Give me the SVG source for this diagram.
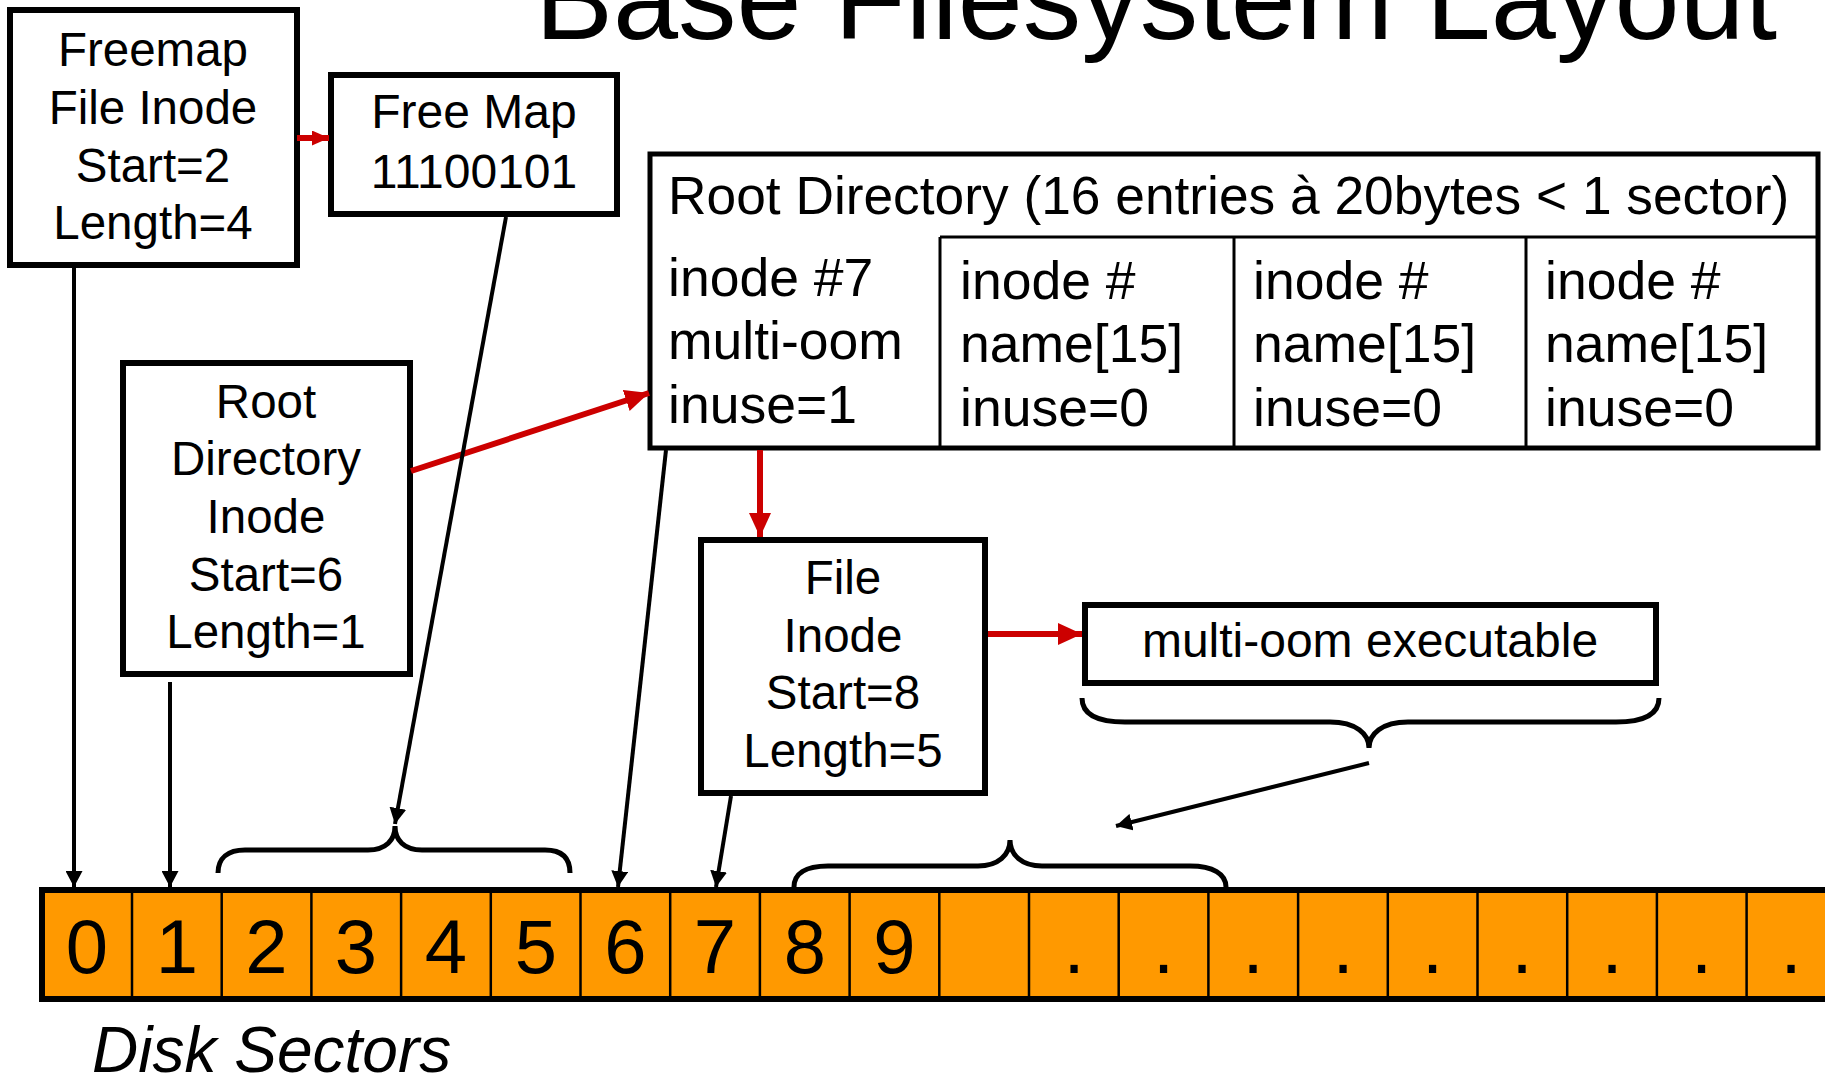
<svg xmlns="http://www.w3.org/2000/svg" width="1825" height="1078" viewBox="0 0 1825 1078">
<style>
.box{fill:#fff;stroke:#000;stroke-width:6}
.t{font-family:"Liberation Sans",Arial,sans-serif;fill:#000}
.c{text-anchor:middle}
.bl{stroke:#000;stroke-width:4;fill:none}
.rd{stroke:#CC0000;stroke-width:6;fill:none}
.brace{stroke:#000;stroke-width:5;fill:none;stroke-linecap:butt}
.div{stroke:#000;stroke-width:2.5}
.cell{stroke:#000;stroke-width:3}
</style>
<defs>
<marker id="ab" markerUnits="userSpaceOnUse" markerWidth="16" markerHeight="17" refX="16" refY="8.5" orient="auto"><path d="M0,0 L16,8.5 L0,17 z" fill="#000"/></marker>
<marker id="ar" markerUnits="userSpaceOnUse" markerWidth="24" markerHeight="22" refX="24" refY="11" orient="auto"><path d="M0,0 L24,11 L0,22 z" fill="#CC0000"/></marker>
<marker id="ars" markerUnits="userSpaceOnUse" markerWidth="17" markerHeight="15" refX="17" refY="7.5" orient="auto"><path d="M0,0 L17,7.5 L0,15 z" fill="#CC0000"/></marker>
</defs>
<rect width="1825" height="1078" fill="#fff"/>

<text id="title" class="t" x="535" y="39" font-size="117">Base Filesystem Layout</text>

<g id="freemap-inode">
<rect class="box" x="10" y="10" width="287" height="255"/>
<text class="t c" font-size="47.5"><tspan x="153" y="66">Freemap</tspan><tspan x="153" y="124">File Inode</tspan><tspan x="153" y="182">Start=2</tspan><tspan x="153" y="239">Length=4</tspan></text>
</g>

<g id="free-map">
<rect class="box" x="331" y="75" width="286" height="139"/>
<text class="t c" font-size="48"><tspan x="474" y="128">Free Map</tspan><tspan x="474" y="188">11100101</tspan></text>
</g>

<g id="root-dir-inode">
<rect class="box" x="123" y="363" width="287" height="311"/>
<text class="t c" font-size="47.5"><tspan x="266" y="418">Root</tspan><tspan x="266" y="475">Directory</tspan><tspan x="266" y="533">Inode</tspan><tspan x="266" y="591">Start=6</tspan><tspan x="266" y="648">Length=1</tspan></text>
</g>

<g id="root-directory">
<rect x="650" y="154" width="1168" height="294" fill="#fff" stroke="#000" stroke-width="5"/>
<line class="cell" x1="940" y1="237" x2="1818" y2="237"/>
<line class="cell" x1="940" y1="237" x2="940" y2="448"/>
<line class="cell" x1="1234" y1="237" x2="1234" y2="448"/>
<line class="cell" x1="1526" y1="237" x2="1526" y2="448"/>
<text class="t" x="668" y="214" font-size="53.3">Root Directory (16 entries à 20bytes &lt; 1 sector)</text>
<text class="t" font-size="53.5"><tspan x="668" y="296">inode #7</tspan><tspan x="668" y="359">multi-oom</tspan><tspan x="668" y="423">inuse=1</tspan></text>
<text class="t" font-size="53.5"><tspan x="960" y="299">inode #</tspan><tspan x="960" y="362">name[15]</tspan><tspan x="960" y="426">inuse=0</tspan></text>
<text class="t" font-size="53.5"><tspan x="1253" y="299">inode #</tspan><tspan x="1253" y="362">name[15]</tspan><tspan x="1253" y="426">inuse=0</tspan></text>
<text class="t" font-size="53.5"><tspan x="1545" y="299">inode #</tspan><tspan x="1545" y="362">name[15]</tspan><tspan x="1545" y="426">inuse=0</tspan></text>
</g>

<g id="file-inode">
<rect class="box" x="701" y="540" width="284" height="253"/>
<text class="t c" font-size="47.5"><tspan x="843" y="594">File</tspan><tspan x="843" y="652">Inode</tspan><tspan x="843" y="709">Start=8</tspan><tspan x="843" y="767">Length=5</tspan></text>
</g>

<g id="executable">
<rect class="box" x="1085" y="605" width="571" height="78"/>
<text class="t c" x="1370" y="657" font-size="48">multi-oom executable</text>
</g>

<g id="disk-sectors">
<rect x="42" y="890" width="1800" height="109" fill="#FF9900" stroke="#000" stroke-width="6"/>
<g class="div">
<line x1="132" y1="890" x2="132" y2="999"/><line x1="221.7" y1="890" x2="221.7" y2="999"/><line x1="311.4" y1="890" x2="311.4" y2="999"/><line x1="401.1" y1="890" x2="401.1" y2="999"/><line x1="490.8" y1="890" x2="490.8" y2="999"/><line x1="580.5" y1="890" x2="580.5" y2="999"/><line x1="670.2" y1="890" x2="670.2" y2="999"/><line x1="759.9" y1="890" x2="759.9" y2="999"/><line x1="849.6" y1="890" x2="849.6" y2="999"/><line x1="939.3" y1="890" x2="939.3" y2="999"/><line x1="1029" y1="890" x2="1029" y2="999"/><line x1="1118.7" y1="890" x2="1118.7" y2="999"/><line x1="1208.4" y1="890" x2="1208.4" y2="999"/><line x1="1298.1" y1="890" x2="1298.1" y2="999"/><line x1="1387.8" y1="890" x2="1387.8" y2="999"/><line x1="1477.5" y1="890" x2="1477.5" y2="999"/><line x1="1567.2" y1="890" x2="1567.2" y2="999"/><line x1="1656.9" y1="890" x2="1656.9" y2="999"/><line x1="1746.6" y1="890" x2="1746.6" y2="999"/>
</g>
<g class="t c" font-size="76">
<text x="87" y="973">0</text><text x="177" y="973">1</text><text x="266.5" y="973">2</text><text x="356" y="973">3</text><text x="446" y="973">4</text><text x="536" y="973">5</text><text x="625.5" y="973">6</text><text x="715" y="973">7</text><text x="805" y="973">8</text><text x="894.5" y="973">9</text>
<text x="1074" y="973">.</text><text x="1163.5" y="973">.</text><text x="1253" y="973">.</text><text x="1343" y="973">.</text><text x="1432.5" y="973">.</text><text x="1522" y="973">.</text><text x="1612" y="973">.</text><text x="1701.5" y="973">.</text><text x="1791" y="973">.</text>
</g>
<text class="t" x="92" y="1072" font-size="64" font-style="italic">Disk Sectors</text>
</g>

<g id="connectors">
<line class="rd" x1="297" y1="138" x2="329" y2="138" marker-end="url(#ars)"/>
<line class="rd" x1="411" y1="471" x2="649" y2="393" marker-end="url(#ar)"/>
<line class="rd" x1="760" y1="450" x2="760" y2="537" marker-end="url(#ar)" stroke-width="5"/>
<line class="rd" x1="988" y1="634" x2="1082" y2="634" marker-end="url(#ar)"/>
<line class="bl" x1="74" y1="268" x2="74" y2="887" marker-end="url(#ab)"/>
<line class="bl" x1="170" y1="682" x2="170" y2="887" marker-end="url(#ab)"/>
<line class="bl" x1="506" y1="217" x2="395" y2="824" marker-end="url(#ab)"/>
<line class="bl" x1="666" y1="450" x2="618" y2="887" marker-end="url(#ab)"/>
<line class="bl" x1="731" y1="796" x2="716" y2="887" marker-end="url(#ab)"/>
<line class="bl" x1="1369" y1="763" x2="1116" y2="826" marker-end="url(#ab)"/>
<path class="brace" d="M218,873 C218,858 228,850 245,850 L368,850 C386,850 395,840 395,826 C395,840 404,850 422,850 L545,850 C562,850 570,858 570,873"/>
<path class="brace" d="M1082,698 C1082,714 1097,722 1125,722 L1330,722 C1356,722 1369,734 1369,748 C1369,734 1382,722 1408,722 L1616,722 C1644,722 1659,714 1659,698"/>
<path class="brace" d="M794,887 C794,874 805,866 828,866 L978,866 C998,866 1010,855 1010,840 C1010,855 1022,866 1042,866 L1190,866 C1213,866 1226,874 1226,887"/>
</g>
</svg>
